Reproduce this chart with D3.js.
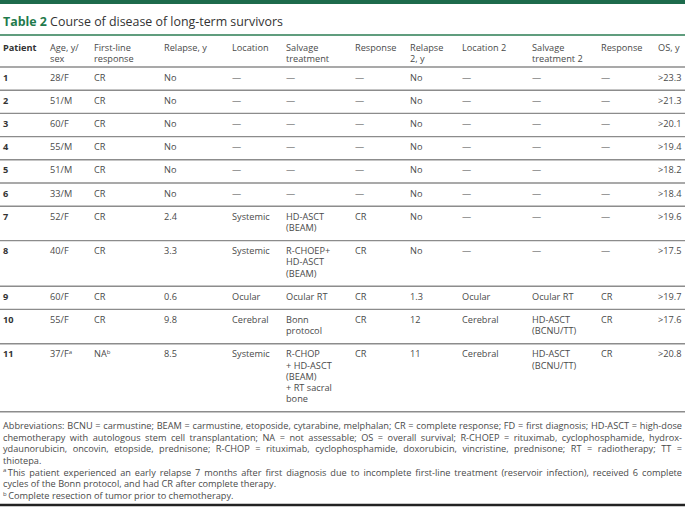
<!DOCTYPE html>
<html>
<head>
<meta charset="utf-8">
<script src="https://cdn.jsdelivr.net/npm/d3@7"></script>
<style>
  body { margin: 0; background: #fff; }
  svg { display: block; font-family: "Open Sans", sans-serif; }
</style>
</head>
<body>
<div id="chart"></div>
<script>
(function(){
  // column headers ("\n" = line break)
  const headers = ['Patient', 'Age, y/\nsex', 'First-line\nresponse', 'Relapse, y', 'Location',
    'Salvage\ntreatment', 'Response', 'Relapse\n2, y', 'Location 2', 'Salvage\ntreatment 2',
    'Response', 'OS, y'];

  // one array per column, "^x" = superscript
  const patient   = ['1', '2', '3', '4', '5', '6', '7', '8', '9', '10', '11'];
  const ageSex    = ['28/F', '51/M', '60/F', '55/M', '51/M', '33/M', '52/F', '40/F', '60/F', '55/F', '37/F^a'];
  const firstLine = ['CR', 'CR', 'CR', 'CR', 'CR', 'CR', 'CR', 'CR', 'CR', 'CR', 'NA^b'];
  const relapse   = ['No', 'No', 'No', 'No', 'No', 'No', '2.4', '3.3', '0.6', '9.8', '8.5'];
  const location  = ['—', '—', '—', '—', '—', '—', 'Systemic', 'Systemic', 'Ocular', 'Cerebral', 'Systemic'];
  const salvage   = ['—', '—', '—', '—', '—', '—', 'HD-ASCT\n(BEAM)', 'R-CHOEP+\nHD-ASCT\n(BEAM)',
    'Ocular RT', 'Bonn\nprotocol', 'R-CHOP\n+ HD-ASCT\n(BEAM)\n+ RT sacral\nbone'];
  const response  = ['—', '—', '—', '—', '—', '—', 'CR', 'CR', 'CR', 'CR', 'CR'];
  const relapse2  = ['No', 'No', 'No', 'No', 'No', 'No', 'No', 'No', '1.3', '12', '11'];
  const location2 = ['—', '—', '—', '—', '—', '—', '—', '—', 'Ocular', 'Cerebral', 'Cerebral'];
  const salvage2  = ['—', '—', '—', '—', '—', '—', '—', '—', 'Ocular RT', 'HD-ASCT\n(BCNU/TT)', 'HD-ASCT\n(BCNU/TT)'];
  const response2 = ['—', '—', '—', '—', '', '—', '—', '—', 'CR', 'CR', 'CR'];
  const os        = ['>23.3', '>21.3', '>20.1', '>19.4', '>18.2', '>18.4', '>19.6', '>17.5', '>19.7', '>17.6', '>20.8'];

  // footnote lines as printed; last line of each paragraph is left ragged
  const abbrevLines = [
    'Abbreviations: BCNU = carmustine; BEAM = carmustine, etoposide, cytarabine, melphalan; CR = complete response; FD = first diagnosis; HD-ASCT = high-dose',
    'chemotherapy with autologous stem cell transplantation; NA = not assessable; OS = overall survival; R-CHOEP = rituximab, cyclophosphamide, hydrox-',
    'ydaunorubicin, oncovin, etopside, prednisone; R-CHOP = rituximab, cyclophosphamide, doxorubicin, vincristine, prednisone; RT = radiotherapy; TT =',
    'thiotepa.'
  ];
  const noteA = [
    'This patient experienced an early relapse 7 months after first diagnosis due to incomplete first-line treatment (reservoir infection), received 6 complete',
    'cycles of the Bonn protocol, and had CR after complete therapy.'
  ];
  const noteB = ['Complete resection of tumor prior to chemotherapy.'];

  const table = patient.map((p, i) => [p, ageSex[i], firstLine[i], relapse[i], location[i], salvage[i],
    response[i], relapse2[i], location2[i], salvage2[i], response2[i], os[i]]);

  const width = 685;
  const height = 508;
  const left = 3, right = 682;
  const cellSize = 9.2;
  const lineH = 11.2;
  const rowPad = 12;
  const headerRuleY = 67;

  const x = d3.scaleOrdinal()
    .domain(d3.range(headers.length))
    .range([3, 50, 94, 164, 232, 286, 355, 410, 462, 532, 601, 658]);

  const svg = d3.select('#chart')
    .append('svg')
    .attr('width', width)
    .attr('height', height);

  svg.append('rect')
    .attr('x', 0).attr('y', 0)
    .attr('width', width).attr('height', 4)
    .attr('fill', '#1d6b4c');

  const title = svg.append('text')
    .attr('x', left).attr('y', 25.5)
    .style('font-size', '12.4px');
  title.append('tspan').attr('fill', '#1f7a4c').style('font-weight', 700).text('Table 2');
  title.append('tspan').attr('fill', '#333').text(' Course of disease of long-term survivors');

  function rule(y, color, w) {
    svg.append('line')
      .attr('x1', 0).attr('x2', width)
      .attr('y1', y).attr('y2', y)
      .attr('stroke', color)
      .attr('stroke-width', w);
  }

  rule(35, '#2b7d53', 1.5);

  // one text per cell, lines as tspans, optional superscript
  function cell(str, cx, y0, bold) {
    const t = svg.append('text')
      .attr('fill', bold ? '#333' : '#4a4a4a')
      .style('font-size', cellSize + 'px')
      .style('font-weight', bold ? 700 : 400);
    str.split('\n').forEach((ln, j) => {
      const parts = ln.split('^');
      t.append('tspan').attr('x', cx).attr('y', y0 + j * lineH).text(parts[0]);
      if (parts[1]) {
        t.append('tspan').attr('y', y0 + j * lineH - 3.5).style('font-size', '6px').text(parts[1]);
      }
    });
  }

  headers.forEach((h, i) => cell(h, x(i), 50.5, i === 0));
  rule(headerRuleY, '#8c8c8c', 1.4);

  let top = headerRuleY;
  table.forEach(row => {
    const n = d3.max(row, c => c.split('\n').length);
    const h = rowPad + n * lineH;
    row.forEach((c, i) => cell(c, x(i), top + 13.5, i === 0));
    top += h;
    rule(top, '#8c8c8c', 1.4);
  });

  // footnotes: one text block, words placed for full justification
  const noteSize = 9.2;
  const noteLH = 11.7;
  let noteY = top + 17;
  const notes = svg.append('text')
    .attr('fill', '#4a4a4a')
    .style('font-size', noteSize + 'px');

  const measure = svg.append('text');
  function textW(s, size) {
    measure.style('font-size', size + 'px').text(s);
    return measure.node().getComputedTextLength();
  }

  function noteLine(str, y, justify, sup) {
    let x0 = left;
    if (sup) {
      notes.append('tspan').attr('x', left).attr('y', y - 3.5).style('font-size', '6px').text(sup);
      x0 = left + textW(sup, 6) + 1.5;
    }
    const words = str.split(' ');
    const widths = words.map(w => textW(w, noteSize));
    const gap = justify ? (right - x0 - d3.sum(widths)) / (words.length - 1) : noteSize * 0.26;
    let cx = x0;
    words.forEach((w, i) => {
      notes.append('tspan').attr('x', cx).attr('y', y).text(w);
      cx += widths[i] + gap;
    });
  }

  abbrevLines.forEach((ln, i) => {
    noteLine(ln, noteY, i < abbrevLines.length - 1);
    noteY += noteLH;
  });
  noteA.forEach((ln, i) => {
    noteLine(ln, noteY, i < noteA.length - 1, i === 0 ? 'a' : null);
    noteY += noteLH;
  });
  noteB.forEach((ln, i) => {
    noteLine(ln, noteY, false, i === 0 ? 'b' : null);
    noteY += noteLH;
  });
  measure.remove();

  rule(505, '#222', 2.5);
})();
</script>
</body>
</html>
